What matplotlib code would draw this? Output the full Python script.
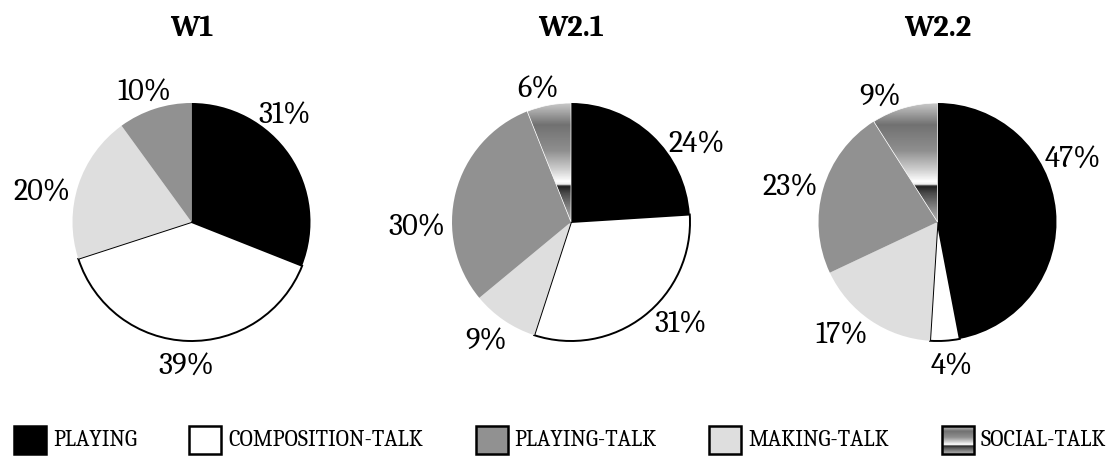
import numpy as np
import matplotlib
matplotlib.use('Agg')
import matplotlib.pyplot as plt
from matplotlib.colors import LinearSegmentedColormap
from matplotlib.patches import Rectangle

plt.rcParams['font.family'] = ['Caladea', 'DejaVu Serif']

# slice order inside every pie (clockwise from 12 o'clock)
categories = ['PLAYING', 'COMPOSITION-TALK', 'MAKING-TALK', 'PLAYING-TALK', 'SOCIAL-TALK']
legend_order = ['PLAYING', 'COMPOSITION-TALK', 'PLAYING-TALK', 'MAKING-TALK', 'SOCIAL-TALK']
weeks = ['W1', 'W2.1', 'W2.2']
share_w1 = [31, 39, 20, 10, 0]
share_w21 = [24, 31, 9, 30, 6]
share_w22 = [47, 4, 17, 23, 9]
shares = [share_w1, share_w21, share_w22]

# ---- layout / style ----
W, H = 1115, 460
centres = [(191.5, 237), (571, 237), (937.5, 237)]
R = 119
label_turn = [[-18, 0, -4, 0, 0],      # small angular nudges for the % labels
              [11, -8, 1, -15, -2],
              [-23, -2, 5, 0, -7]]
fills = {'PLAYING': '#000000', 'COMPOSITION-TALK': '#ffffff',
         'MAKING-TALK': '#dedede', 'PLAYING-TALK': '#919191', 'SOCIAL-TALK': 'none'}

# "chrome" style gradient used for social talk (top -> bottom)
chrome = LinearSegmentedColormap.from_list('chrome', [
    (0.00, '#c8c8c8'), (0.18, '#717171'), (0.40, '#8f8f8f'), (0.56, '#cfcfcf'),
    (0.66, '#ffffff'), (0.685, '#eeeeee'), (0.70, '#1e1e1e'), (0.76, '#4a4a4a'),
    (0.90, '#8c8c8c'), (1.00, '#b2b2b2')])
grad = np.linspace(0, 1, 300).reshape(-1, 1)


def gradient_fill(ax, patch, x0, x1, y0, y1):
    im = ax.imshow(grad, cmap=chrome, extent=[x0, x1, y0, y1], origin='upper',
                   aspect='auto', interpolation='bilinear', zorder=0.5)
    im.set_clip_path(patch)


fig = plt.figure(figsize=(W / 100, H / 100), dpi=100)
ax = fig.add_axes([0, 0, 1, 1])

pies = []
for k, vals in enumerate(shares):
    cx, cy = centres[k]
    wedges, _ = ax.pie(vals, colors=[fills[c] for c in categories], startangle=90,
                       counterclock=False, center=(cx, cy), radius=R,
                       wedgeprops=dict(linewidth=0))
    pies.append(wedges)

ax.set_xlim(0, W)
ax.set_ylim(0, H)
ax.set_aspect('equal')
ax.axis('off')

for k, vals in enumerate(shares):
    wedges = pies[k]
    # white slice gets a black outline, gradient slice a hairline
    wedges[1].set_edgecolor('black')
    wedges[1].set_linewidth(1.4)
    if vals[4] > 0:
        sw = wedges[4]
        sw.set_edgecolor('white')
        sw.set_linewidth(0.5)
        ext = sw.get_path().get_extents()
        gradient_fill(ax, sw, ext.x0, ext.x1, ext.y0, ext.y1)

renderer = fig.canvas.get_renderer()

# titles and percentage labels
for k, vals in enumerate(shares):
    cx, cy = centres[k]
    ax.text(cx, 432, weeks[k], fontsize=22, fontweight='bold', ha='center', va='center')
    total = float(sum(vals))
    before = 0
    for i, v in enumerate(vals):
        if v == 0:
            continue
        theta = np.radians(360 * (before + v / 2) / total + label_turn[k][i])
        before += v
        ux, uy = np.sin(theta), np.cos(theta)
        t = ax.text(0, 0, f'{v}%', fontsize=22, ha='center', va='center')
        bb = t.get_window_extent(renderer)
        d = R + 7
        t.set_position((cx + d * ux + ux * bb.width / 2,
                        cy + d * uy + uy * bb.height / 2 - 4))

# legend row along the bottom
ly, bw, bh, gap_bt = 19, 32, 28, 7
texts, widths = [], []
for name in legend_order:
    t = ax.text(0, ly, name, fontsize=16, ha='left', va='center')
    texts.append(t)
    widths.append(t.get_window_extent(renderer).width)
used = sum(bw + gap_bt + w for w in widths)
left, right = 14, 1106
inter = (right - left - used) / (len(legend_order) - 1)
if inter < 14:
    inter = 14
    left = (W - used - inter * (len(legend_order) - 1)) / 2
x = left
for name, t, w in zip(legend_order, texts, widths):
    box = Rectangle((x, ly - bh / 2), bw, bh, facecolor=fills[name], edgecolor='black',
                    linewidth=1.8, zorder=2)
    ax.add_patch(box)
    if name == 'SOCIAL-TALK':
        gradient_fill(ax, box, x, x + bw, ly - bh / 2, ly + bh / 2)
    t.set_x(x + bw + gap_bt)
    x += bw + gap_bt + w + inter

ax.set_xlim(0, W)
ax.set_ylim(0, H)
fig.savefig('out.png', dpi=100)
